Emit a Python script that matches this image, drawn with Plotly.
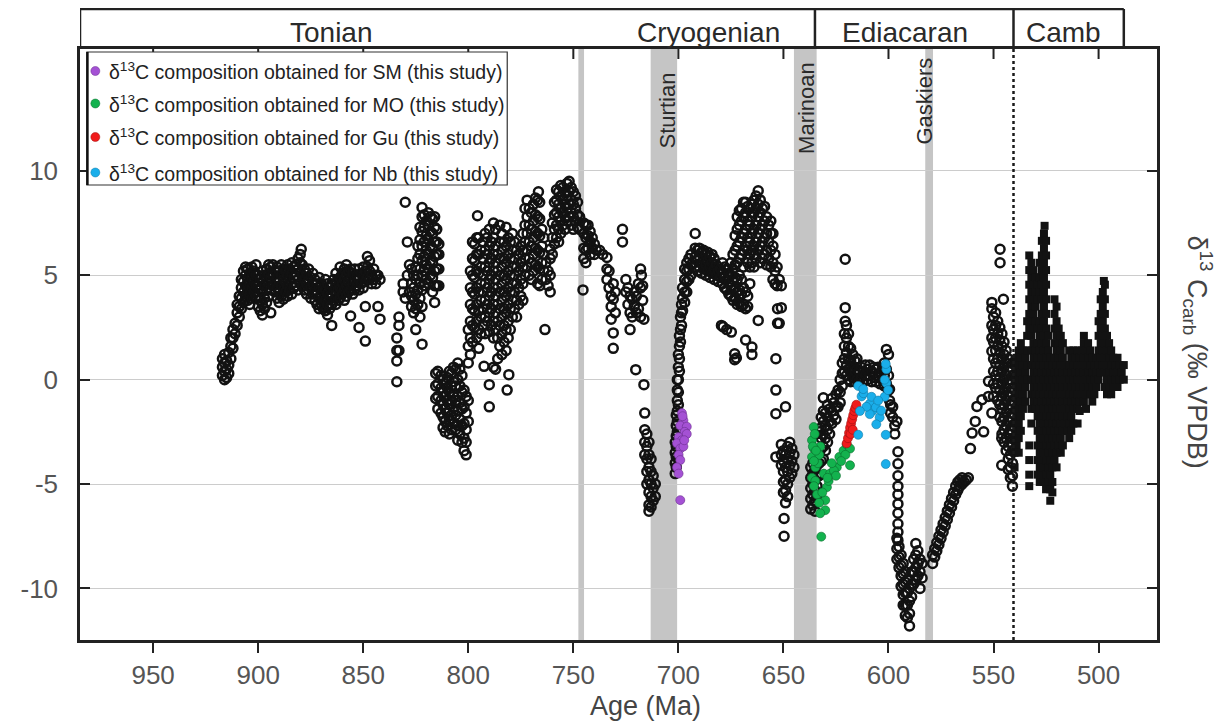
import plotly.graph_objects as go

# ---------------- DATA ----------------
# Compilation of carbonate d13C (rows: age in Ma, then d13C values read at that age)
tonian_early = [
    (917, 0.2, 0.6, 1.0), (916, 0.0, 0.4, 0.8, 1.2), (915, 0.1, 0.5, 0.9), (914, 0.3, 0.7, 1.3),
    (913, 1.0, 1.6, 2.0), (912, 1.5, 2.0, 2.4), (911, 2.2, 2.7), (910, 2.6, 3.2, 3.6),
    (909, 3.0, 3.5, 4.0), (908, 3.4, 3.9, 4.4, 4.8), (907, 3.7, 4.2, 4.7, 5.2), (906, 4.0, 4.5, 5.0, 5.4),
    (905, 3.8, 4.3, 4.8, 5.3), (904, 3.6, 4.1, 4.6, 5.1), (903, 3.9, 4.4, 4.9, 5.4), (902, 4.2, 4.7, 5.2),
    (901, 4.0, 4.5, 5.0, 5.5), (900, 3.5, 4.0, 4.5, 5.0), (899, 3.3, 3.8, 4.3, 4.8), (898, 3.1, 3.6, 4.2, 4.7, 5.2),
    (897, 3.4, 3.9, 4.5, 5.0), (896, 3.7, 4.3, 4.8, 5.3), (895, 4.0, 4.6, 5.1, 5.5), (894, 3.2, 4.3, 4.9, 5.4),
    (893, 4.5, 5.0, 5.5), (892, 4.2, 4.7, 5.2), (891, 3.9, 4.4, 4.9, 5.4), (890, 3.7, 4.2, 4.7, 5.2),
    (889, 4.0, 4.5, 5.0, 5.5), (888, 3.85, 4.3, 4.8, 5.3), (887, 4.2, 4.7, 5.2), (886, 4.0, 4.5, 5.0, 5.5),
    (885, 4.3, 4.8, 5.3), (884, 4.1, 4.6, 5.1, 5.6), (883, 4.4, 4.9, 5.4), (882, 4.5, 5.0, 5.5),
    (881, 4.3, 4.8, 5.3, 5.8), (880, 4.6, 5.1, 5.6, 6.0), (879.5, 6.25), (879, 4.5, 5.0, 5.5),
    (878, 4.3, 4.8, 5.3), (877, 4.1, 4.6, 5.1), (876, 4.3, 4.8, 5.3), (875, 3.9, 4.4, 4.9),
    (874, 4.1, 4.6, 5.1), (873, 3.8, 4.3, 4.8), (872, 3.6, 4.1, 4.6), (871, 3.4, 3.9, 4.4, 4.9),
    (870, 3.6, 4.1, 4.6), (869, 3.4, 3.9, 4.4), (868, 3.3, 3.8, 4.3, 4.8), (867, 3.1, 3.6, 4.1, 4.6),
    (866, 3.4, 3.9, 4.4), (865, 2.6, 3.6, 4.1, 4.6), (864, 3.8, 4.3, 4.8), (863, 3.6, 4.1, 4.6, 5.1),
    (862, 3.8, 4.3, 4.8), (861, 3.9, 4.4, 4.9, 5.4), (860, 4.1, 4.6, 5.1), (859, 3.8, 4.3, 4.8, 5.3),
    (858, 4.0, 4.5, 5.0, 5.5), (857, 4.2, 4.7, 5.2), (856, 3.05, 4.3, 4.8, 5.3), (855, 4.1, 4.6, 5.1),
    (854, 4.3, 4.8, 5.3), (853, 4.5, 5.0), (852, 2.5, 4.3, 4.8, 5.3), (851, 4.6, 5.1),
    (850, 4.4, 4.9, 5.4), (849, 1.85, 3.5, 4.7, 5.2), (848, 4.9, 5.4, 5.9), (847, 4.8, 5.2, 5.7),
    (846, 4.6, 5.0), (845, 4.8, 5.3), (844, 4.6, 5.0), (843, 3.5, 5.0), (842, 2.9, 4.8),
]

tonian_late = [
    (834, -0.1, 0.9, 1.4, 2.0), (833, 1.4, 2.6, 3.0), (831, 4.2, 4.6), (830, 3.9, 8.5), (829, 5.0, 6.6),
    (828, 4.2, 5.5), (827, 3.5, 4.0, 4.6, 5.3), (826, 3.2, 3.8, 4.4, 5.0), (825, 2.4, 3.4, 4.1, 4.8, 5.4),
    (824, 3.6, 4.3, 5.0, 5.8, 6.4), (823, 3.0, 3.9, 4.6, 5.3, 6.0, 6.7, 7.3),
    (822, 1.7, 3.5, 4.3, 5.0, 5.7, 6.4, 7.1, 7.8, 8.25), (821, 4.5, 5.2, 5.9, 6.6, 7.3, 7.9),
    (820, 4.8, 5.5, 6.2, 6.9, 7.6), (819, 4.6, 5.3, 6.0, 6.7, 7.4, 8.0), (818, 5.0, 5.7, 6.4, 7.1, 7.8),
    (817, 4.2, 4.9, 5.6, 6.3, 7.0, 7.7), (816, 3.7, 4.5, 5.2, 5.9, 6.6, 7.3, 7.8),
    (815, 4.5, 5.3, 6.0, 6.6, 7.2), (814, 4.5, 5.3, 6.0, 6.5),
    (815.5, 0.3, -0.3, -0.9), (814.5, 0.4, -0.2, -0.8, -1.4), (813, 0.2, -0.4, -1.0, -1.6),
    (812, 0.0, -0.6, -1.2, -1.8, -2.3), (811, -0.2, -0.8, -1.4, -2.0, -2.5), (810, 0.1, -0.4, -1.0, -1.6, -2.2),
    (809, 0.4, -0.6, -1.2, -1.9, -2.6), (808, 0.3, -0.3, -1.0, -1.7, -2.4), (807, 0.6, -0.1, -0.8, -1.5, -2.1),
    (806, 0.5, -0.3, -1.0, -1.7, -2.4), (805, 0.8, 0.0, -0.8, -1.5, -2.2, -2.9), (804, 0.5, -0.3, -1.1, -1.9, -2.6),
    (803, 0.2, -0.6, -1.4, -2.2, -3.0), (802, -0.5, -1.3, -2.1, -2.8, -3.4), (801, -0.8, -1.6, -2.4, -3.0, -3.6),
    (800, -1.0, -2.0, 0.8, 1.6, 2.4), (799, 1.2, 2.0, 2.8, 3.6, 4.4, 5.2), (798, 1.8, 2.6, 3.4, 4.2, 5.0, 5.8, 6.6),
    (797, 2.5, 3.3, 4.1, 4.9, 5.7, 6.5), (796, 2.0, 2.8, 3.6, 4.4, 5.2, 6.0, 6.8), (795.6, 7.85),
    (795, 1.5, 2.4, 3.3, 4.2, 5.1, 6.0, 6.8), (794, 2.2, 3.0, 3.8, 4.6, 5.4, 6.2),
    (793, 2.6, 3.4, 4.2, 5.0, 5.8, 6.6), (792.5, 0.64), (792, 2.2, 3.0, 3.8, 4.6, 5.4, 6.2, 7.0),
    (791, 2.8, 3.6, 4.4, 5.2, 6.0, 6.8), (790, -1.3, -0.24, 2.3, 3.2, 4.0, 4.8, 5.6, 6.4, 7.2),
    (789, 2.6, 3.4, 4.2, 5.0, 5.8, 6.6), (788, 0.6, 2.0, 2.8, 3.6, 4.4, 5.2, 6.0, 6.8, 7.5),
    (787, 0.5, 2.4, 3.2, 4.0, 4.8, 5.6, 6.4, 7.2), (786, 1.0, 2.0, 2.8, 3.6, 4.4, 5.2, 6.0),
    (785, 1.6, 2.6, 3.4, 4.2, 5.0, 5.8, 6.6, 7.4), (784, 1.2, 2.2, 3.0, 3.8, 4.6, 5.4, 6.2, 7.0),
    (783, 1.8, 2.6, 3.4, 4.2, 5.0, 5.8, 6.6), (782, 1.4, 2.4, 3.2, 4.0, 4.8, 5.6, 6.4, 7.3), (781.5, -0.5),
    (781, 2.0, 2.8, 3.6, 4.4, 5.2, 6.0, 6.8), (780.7, 0.24), (780, 2.4, 3.4, 4.2, 5.0, 5.8, 6.6),
    (779, 3.0, 3.8, 4.6, 5.4, 6.2, 7.0), (778, 3.4, 4.2, 5.0, 5.8, 6.6), (777, 3.0, 3.8, 4.6, 5.4, 6.2),
    (776, 3.6, 4.4, 5.2, 6.0), (775, 4.0, 4.8, 5.6, 6.4), (774, 3.8, 4.6, 5.4, 6.2, 7.0),
    (773, 5.0, 5.8, 6.6, 7.4, 8.2), (772, 5.4, 6.2, 7.0, 7.8, 8.6), (771, 5.0, 5.8, 6.6, 7.4, 8.2),
    (770, 4.8, 5.6, 6.4, 7.2, 8.0), (769, 5.2, 6.0, 6.8, 7.6, 8.4), (768, 5.5, 6.3, 7.1, 7.9, 8.7),
    (767, 4.6, 5.4, 6.2, 7.0, 7.8, 8.6), (766.6, 9.0), (766, 4.5, 5.3, 6.1, 6.9, 7.7, 8.5),
    (765, 4.8, 5.6, 6.4, 7.2), (764, 5.2, 6.0, 6.8), (763.5, 2.4), (763, 4.8, 5.6), (762, 4.5, 5.2),
    (761, 4.2, 5.0, 5.8, 6.25), (760, 6.0, 6.8, 7.5), (759, 6.5, 7.2, 7.9, 8.5),
    (758, 6.8, 7.4, 8.0, 8.6, 9.1), (757, 6.6, 7.2, 7.8, 8.4, 9.0), (756, 7.0, 7.6, 8.2, 8.8, 9.3),
    (755, 7.4, 8.0, 8.6, 9.2), (754, 7.2, 7.8, 8.4, 9.0), (753, 7.6, 8.2, 8.8, 9.4),
    (752, 7.8, 8.4, 9.0, 9.5), (751, 7.4, 8.0, 8.6, 9.2), (750, 7.2, 7.8, 8.4, 9.0),
    (749, 7.6, 8.2, 8.8), (748, 7.3, 7.9, 8.5), (747, 7.2, 7.8),
]

cryogenian = [
    (745.4, 4.3), (745, 5.8, 6.3, 7.0, 7.5), (744, 5.6, 6.2, 6.8, 7.4), (743, 6.3, 6.9, 7.4),
    (742, 6.0, 6.6, 7.1), (741, 6.3, 6.8), (740, 6.0, 6.5), (739, 6.2), (737.5, 6.2), (736, 6.0),
    (734, 4.8, 5.3, 5.85), (733, 4.4, 5.2), (732, 2.9, 3.5, 4.0), (731, 1.5, 2.24, 3.85, 4.6),
    (730, 3.2, 4.2), (726.6, 6.6, 7.2), (725, 4.2, 4.8), (724, 3.6, 4.4), (723, 2.4, 3.2, 4.0),
    (722, 3.0, 3.85), (721, 3.5, 4.2), (720.3, 0.48), (720, 3.2, 4.0), (719, 3.4, 4.6),
    (718, 3.0, 4.4, 5.3), (717.6, 5.0), (717, 3.8, 4.5), (716.4, -0.24, 2.9),
    (716, -1.6, -2.4, -3.0, -3.6), (715, -2.6, -3.2, -3.8, -4.4, -5.0),
    (714, -3.0, -3.6, -4.2, -4.8, -5.4, -6.0, -6.3), (713, -3.8, -4.4, -5.0, -5.6, -6.1),
    (712, -4.6, -5.2, -5.8), (711, -5.0, -5.6),
    (701.5, -4.5, -4.0, -3.5, -3.0), (701, -4.2, -3.7, -3.2, -2.7, -2.2, -1.7),
    (700.5, -2.5, -2.0, -1.5, -1.0, -0.5, 0.0), (700, -1.2, -0.6, 0.0, 0.6, 1.2),
    (699.5, 0.4, 1.0, 1.6, 2.1), (699, 1.8, 2.4, 3.0), (698.5, 2.6, 3.2, 3.6), (698, 3.3, 3.9, 4.4),
    (697, 3.7, 4.2, 4.8, 5.3), (696, 4.2, 4.7, 5.2, 5.6), (695, 4.8, 5.3, 5.8), (694, 5.0, 5.5, 6.0),
    (692, 5.4, 5.9, 6.3, 7.0), (691, 5.2, 5.7, 6.2), (690, 5.4, 5.9, 6.3), (689, 5.1, 5.6, 6.1),
    (688, 5.3, 5.8, 6.2), (687, 5.0, 5.5, 6.0), (686, 5.2, 5.7, 6.1), (685, 4.9, 5.4, 5.9),
    (684, 5.1, 5.6, 6.0), (683, 4.8, 5.3, 5.8), (682, 5.0, 5.5), (681, 4.7, 5.2), (680, 4.9, 5.3),
    (679.5, 2.6), (679, 4.6, 5.1, 5.6), (678.7, 2.53), (678, 4.4, 4.9, 5.4), (677, 2.4, 4.3, 4.8, 5.3),
    (676, 4.1, 4.6, 5.1), (675, 4.0, 4.5, 5.0, 5.6), (674.8, 2.28), (674, 3.8, 4.3, 4.8, 5.3, 6.0),
    (673.2, 0.96, 1.24), (673, 3.9, 4.4, 4.9, 5.5, 6.2, 6.9), (672.4, 1.04),
    (672, 3.6, 4.2, 4.8, 5.6, 6.4, 7.2, 7.8), (671, 3.7, 4.3, 5.0, 5.8, 6.6, 7.4, 8.1),
    (670, 3.5, 4.1, 4.8, 6.0, 6.8, 7.6, 8.2), (669, 3.6, 4.4, 5.4, 6.2, 7.0, 7.8, 8.5),
    (668, 1.9, 3.4, 4.2, 6.4, 7.2, 8.0, 8.5), (667, 3.5, 4.0, 5.6, 6.2, 6.8, 7.6, 8.3),
    (666, 4.6, 5.4, 6.0, 6.6, 7.4, 8.2), (665, 1.2, 1.56, 5.6, 6.2, 7.0, 7.8, 8.4),
    (664, 5.4, 6.0, 6.4, 7.2, 8.0, 8.6), (663, 5.8, 6.6, 7.4, 8.2, 8.8),
    (662, 2.84, 6.2, 7.0, 7.8, 8.4, 9.05), (661, 5.6, 6.4, 7.2, 8.0, 8.6), (660, 5.8, 6.6, 7.4, 8.2),
    (659, 6.0, 6.8, 7.6, 8.3), (658, 5.5, 6.2, 7.0, 7.8), (657, 5.8, 6.6, 7.4), (656, 5.4, 6.2, 7.0, 7.6),
    (655, 4.8, 5.6, 6.4, 7.0), (654, 4.6, 5.2, 6.0), (653.6, -3.7, -1.63, -0.5, 1.0), (653, 4.5, 5.4),
    (652.8, 3.4, 2.7), (652, 2.7, 4.8), (651, 3.45, 4.5), (651, -3.1, -3.6, -4.1),
    (650, -3.4, -3.9, -4.4, -4.9, -5.4), (649.7, -6.65, -7.5), (649, -1.3, -3.6, -4.2, -4.8, -5.3, -5.9),
    (648, -3.2, -3.8, -4.4, -5.0, -5.6), (647, -3.0, -3.5, -4.1, -4.7), (646, -3.3, -3.9, -4.5),
    (645, -3.6, -4.2), (637, -4.2, -4.7, -5.2, -5.7, -6.2), (636, -4.0, -4.5, -5.0, -5.5, -6.0),
    (635, -4.3, -4.8, -5.3, -5.8, -6.3), (634, -4.1, -4.6, -5.1, -5.6),
]

ediacaran = [
    (633, -2.5, -3.0, -3.5, -4.0, -4.6), (632, -1.8, -2.3, -2.8, -3.3, -3.9),
    (631, -0.87, -1.5, -2.0, -2.6, -3.2, -3.8), (630, -1.6, -2.2, -2.8, -3.4), (629, -1.2, -1.8, -2.4, -3.0),
    (628, -1.4, -2.0, -2.6), (627, -0.9, -1.5, -2.1), (626, -1.1, -1.7), (625, -0.7, -1.3, -1.9),
    (624, -0.5, -1.3), (623, 0.0, -0.6, -1.1), (622, -0.3, 0.3, 0.8), (621, 0.4, 1.0, 1.6, 2.2),
    (620.6, 2.8, 3.45, 5.77), (620, 0.2, 0.7, 1.3, 2.0, 2.6), (619, 0.0, 0.5, 1.0, 1.6, 2.2),
    (618, -0.1, 0.4, 0.9, 1.5), (617, 0.1, 0.6, 1.2), (616, -0.1, 0.4, 0.9), (615, 0.0, 0.5, 1.0),
    (614, -0.1, 0.4), (613, 0.1, 0.6), (612, -0.1, 0.4), (611, 0.2, 0.7), (610, 0.0, 0.5),
    (609, 0.2, 0.7), (608, -0.1, 0.4), (607, 0.1, 0.6), (606, -0.1, 0.5), (605, 0.1, 0.6),
    (604, -0.2, 0.3), (603, 0.0, 0.5), (602, -0.3, 0.2, 0.8), (601, -0.2, 0.5, 1.45), (600, -0.5, 0.2, 1.2),
    (599.5, -0.46, -1.0), (599, -1.2, -1.6), (598, -1.3, -1.8), (597, -2.2, -2.6), (596, -2.0),
    (595.5, -3.45, -4.03, -4.6, -5.1, -5.5, -5.95, -6.4, -6.9, -7.3, -7.7),
    (596, -7.6, -8.1, -8.6), (595, -8.0, -8.5, -9.0), (594, -8.4, -8.9, -9.4, -9.9),
    (593, -8.8, -9.3, -9.8, -10.3, -10.8), (592, -9.2, -9.7, -10.2, -10.8, -11.3),
    (591, -9.6, -10.2, -10.8, -11.4), (590, -10.0, -10.6, -11.2, -11.8), (589, -9.2, -9.8, -10.4),
    (588, -8.6, -9.2, -9.8), (587, -7.85, -8.4, -9.0, -9.6), (586, -8.2, -8.8, -9.4),
    (585, -8.6, -9.2, -10.0), (584, -8.8, -9.5),
    (579, -8.8, -8.4), (578, -8.5, -8.1), (577, -8.2, -7.8), (576, -7.9, -7.5), (575, -7.6, -7.2),
    (574, -7.3, -6.9), (573, -7.0, -6.6), (572, -6.7, -6.3), (571, -6.4, -6.0), (570, -6.1, -5.7),
    (569, -5.8, -5.4), (568, -5.5, -5.1), (567, -5.3, -4.9), (566, -5.1, -4.8), (565, -5.0, -4.7),
    (564, -4.9), (563, -4.8), (562, -4.7),
    (561, -3.3), (560.2, -2.56), (558.7, -2.0), (557.9, -1.28), (555.5, -0.96), (554.7, -2.5),
    (552.4, -0.8, -0.08), (550.8, 3.7, 3.4, 2.6, 2.0, 1.36, -1.6), (546.9, 6.25, 5.6),
    (546.1, -4.1, -2.8), (545.3, 3.85),
    (550, 3.0, 2.4, 1.8, 1.0, 0.4, -0.2, -0.8), (549, 3.2, 2.6, 2.0, 1.4, 0.8, 0.2, -0.4),
    (548, 2.8, 2.2, 1.6, 1.0, 0.4, -0.2, -1.0), (547, 2.5, 1.9, 1.3, 0.7, 0.1, -0.5, -1.2, -1.8),
    (546, 2.2, 1.6, 1.0, 0.4, -0.2, -0.8, -1.4, -2.0, -2.6),
    (545, 1.8, 1.2, 0.6, 0.0, -0.6, -1.2, -1.8, -2.4, -3.0),
    (544, 1.4, 0.8, 0.2, -0.4, -1.0, -1.6, -2.2, -2.8, -3.4),
    (543, 1.0, 0.4, -0.2, -0.8, -1.4, -2.0, -2.6, -3.2, -3.8, -4.3),
    (542, 0.6, 0.0, -0.6, -1.2, -1.8, -2.4, -3.0, -3.6, -4.2, -4.7),
    (541, 0.8, 0.2, -0.4, -1.0, -1.6, -2.2, -2.8, -3.4, -4.0, -4.6, -5.1),
]

cambrian = [
    (540, 1.0, 0.7, 0.0, -0.7, -1.4, -2.1, -2.8, -3.5, -4.2),
    (539, 1.05, 0.35, -0.35, -1.05, -1.75, -2.45, -3.15),
    (538, 1.4, 0.7, 0.0, -0.7, -1.4, -2.1, -2.8, -3.5),
    (537, 1.75, 1.05, 0.35, -0.35, -1.05, -1.75, -2.45),
    (536, 1.4, 0.7, 0.0, -0.7, -1.4),
    (535, 1.05, 0.35, -0.35, -1.05),
    (534, 2.8, 2.1, 1.4, 0.7, 0.0),
    (533, 5.95, 5.25, 4.55, 3.85, 3.15, 2.45, -3.15, -3.85, -4.55, -5.1),
    (532, 5.6, 4.9, 4.2, 3.5, 2.8, 2.1, 1.4, 0.7, 0.0, -0.7, -1.4, -2.1),
    (531, 5.25, 4.55, 3.85, 3.15, 2.45, 1.75, 1.05, 0.35, -0.35, -1.05),
    (530, 4.9, 4.2, 3.5, 2.8, 1.4, 0.7, 0.0, -0.7, -1.4),
    (529, 4.55, 3.85, 2.45, 1.75, 1.05, 0.35, -0.35, -1.05, -1.75, -2.45, -3.15, -3.85, -4.55),
    (528, 5.6, 4.9, 4.2, 2.8, 2.1, 1.4, 0.7, 0.0, -0.7, -1.4, -2.1, -2.8, -3.5, -4.2, -4.9),
    (527, 6.65, 5.95, 5.25, 4.55, 3.85, 3.15, 2.45, 1.75, 1.05, 0.35, -0.35, -1.05, -1.75, -2.45,
     -3.15, -3.85, -4.55),
    (526, 7.0, 6.3, 5.6, 4.9, 4.2, 3.5, 2.8, 2.1, 1.4, 0.7, 0.0, -0.7, -1.4, -2.1, -2.8, -3.5, -4.2, -4.9),
    (525.7, 7.37),
    (525, 6.65, 5.95, 5.25, 4.55, 3.85, 3.15, 2.45, 1.75, 1.05, 0.35, -0.35, -1.05, -1.75, -2.45,
     -3.15, -3.85, -4.55, -5.25),
    (524, 2.1, 1.4, 0.7, 0.0, -0.7, -1.4, -2.1, -2.8, -3.5, -4.2, -4.9),
    (523, 1.05, 0.35, -0.35, -1.05, -1.75, -2.45, -3.15, -3.85, -4.55, -5.25, -5.8),
    (522, 0.7, 0.0, -0.7, -1.4, -2.1, -2.8, -3.5, -4.2, -4.9, -5.4),
    (521, 3.85, 3.15, 2.45, 1.75, 1.05, 0.35, -0.35, -1.05, -1.75, -2.45, -3.15, -3.85),
    (520, 3.5, 2.8, 2.1, 1.4, 0.7, 0.0, -0.7, -1.4, -2.1, -2.8, -3.5, -4.2),
    (519, 2.45, 1.75, 1.05, 0.35, -0.35, -1.05, -1.75, -2.45, -3.15),
    (518, 2.1, 1.4, 0.7, 0.0, -0.7, -1.4, -2.1, -2.8, -3.5),
    (517, 1.75, 1.05, 0.35, -0.35, -1.05, -1.75, -2.45, -3.15),
    (516, 0.7, 0.0, -0.7, -1.4, -2.1),
    (515, 0.35, -0.35, -1.05, -1.75, -2.45),
    (514, 1.4, 0.7, 0.0, -0.7, -1.4, -2.1, -2.8),
    (513, 1.05, 0.35, -0.35, -1.05, -1.75, -2.45),
    (512, 1.4, 0.7, 0.0, -0.7, -1.4, -2.1),
    (511, 1.05, 0.35, -0.35, -1.05),
    (510, 1.4, 0.7, 0.0, -0.7, -1.4, -2.1),
    (509, 1.05, 0.35, -0.35, -1.05, -1.5),
    (508, 1.4, 0.7, 0.0, -0.7),
    (507, 2.1, 1.75, 1.05, 0.35, -0.35, -1.05),
    (506, 1.4, 0.7, 0.0, -0.7, -1.4),
    (505, 1.75, 1.05, 0.35, -0.35),
    (504, 1.4, 0.7, 0.0, -0.7),
    (503, 1.05, 0.35, -0.35, -1.05),
    (502, 0.7, 0.0, -0.7),
    (501, 1.05, 0.35, -0.35),
    (500, 2.8, 2.1, 1.4, 0.7, 0.0),
    (499, 3.85, 3.15, 2.45, 1.75, 1.05, 0.35),
    (498, 4.2, 3.5, 2.8, 2.1, 1.4, 0.7),
    (497.5, 4.73),
    (497, 4.55, 3.85, 3.15, 2.45, 1.75, 1.05, 0.35, -0.35),
    (496, 2.1, 1.4, 0.7, 0.0, -0.7),
    (495, 1.75, 1.05, 0.35, -0.35),
    (494, 1.4, 0.7, 0.0, -0.7),
    (493, 1.05, 0.35, -0.35),
    (492, 0.7, 0.0),
    (491, 1.05, 0.35, -0.35),
    (490, 0.7, 0.0),
    (489, 0.35),
    (488, 0.7, 0.0),
]

# This study
sm_age = [698.3, 697.6, 699.1, 696.0, 697.0, 699.9, 698.3, 696.0, 700.7, 699.1, 697.6, 699.9,
          699.1, 700.7, 699.9, 699.1, 698.0, 697.2]
sm_d13c = [-1.6, -1.95, -2.2, -2.25, -2.5, -2.75, -2.9, -2.6, -3.05, -3.3, -3.2, -3.6,
           -3.85, -4.2, -4.5, -5.77, -1.75, -2.9]

mo_age = [635.6, 636.4, 635.1, 632.4, 636.4, 634.8, 636.4, 634.8, 630.8, 629.3, 628.5, 627.8,
          624.6, 623.4, 621.4, 630.1, 630.1, 632.0, 633.6, 632.9, 635.5, 635.5, 635.5, 634.0,
          633.0, 632.5, 626.0, 625.0, 619.9, 618.3, 618.3, 620.5, 622.5, 636.0, 634.5, 631.5,
          629.0, 627.0]
mo_d13c = [-2.27, -2.9, -2.6, -3.2, -3.7, -4.2, -4.7, -4.85, -4.5, -5.15, -4.85, -4.5,
           -4.2, -3.7, -3.4, -5.77, -6.25, -7.52, -4.0, -3.6, -3.3, -3.9, -5.1, -5.5,
           -5.9, -6.4, -4.35, -4.6, -3.1, -3.3, -4.1, -3.6, -3.9, -3.2, -3.4, -5.4,
           -4.7, -4.0]

gu_age = [619.9, 619.3, 618.8, 618.3, 617.8, 617.3, 616.8, 616.3, 615.8, 615.3, 618.0, 617.0]
gu_d13c = [-3.05, -2.8, -2.55, -2.3, -2.1, -1.9, -1.7, -1.5, -1.35, -1.2, -2.6, -2.4]

nb_age = [614.4, 612.8, 611.9, 608.9, 607.4, 606.0, 604.2, 605.8, 603.5, 601.8, 601.0, 601.0,
          601.3, 601.8, 600.2, 608.9, 610.5, 613.6, 614.4, 601.3, 601.3, 608.1, 604.9, 612.0]
nb_d13c = [-0.3, -0.8, -0.65, -1.15, -1.48, -1.32, -1.81, -2.14, -1.48, -0.82, -0.16, 0.5,
           0.75, 0.0, -0.5, -1.65, -1.3, -1.5, -2.64, -2.64, -4.04, -0.82, -1.0, -0.45]

# Time scale
period_names = ["Tonian", "Cryogenian", "Ediacaran", "Camb"]
period_label_age = [865.3, 685.9, 592.2, 516.5]
period_boundaries = [635.0, 540.5]
camb_top = 488.0
glacial_names = ["Sturtian", "Marinoan", "Gaskiers"]
glacial_label_age = [705.2, 639.3, 583.3]
glacial_bands = [(747.6, 744.9), (713.2, 700.6), (645.0, 634.2), (582.5, 578.8)]
pc_boundary = 540.5

x_ticks = [950, 900, 850, 800, 750, 700, 650, 600, 550, 500]
y_ticks = [-10, -5, 0, 5, 10]
y_ticktext = ["-10", "-5", "0", "5", "10"]

series = [
    ("SM", sm_age, sm_d13c, "#a451d4", "#6b2f8f"),
    ("MO", mo_age, mo_d13c, "#13b24e", "#0a6b2c"),
    ("Gu", gu_age, gu_d13c, "#f01c1c", "#9c1010"),
    ("Nb", nb_age, nb_d13c, "#1aaeea", "#117aa6"),
]

# ---------------- FIGURE ----------------
X_RANGE = [984.8, 472.2]
Y_RANGE = [-12.47, 15.84]
FONT = "Liberation Sans, Arial, sans-serif"
OFF = 8                     # page body margin of the html page
W, H = 1224 - OFF, 725 - OFF
ML, MR, MT, MB = 68 - OFF, 67, 49 - OFF, 85
PW, PH = W - ML - MR, H - MT - MB


def expand(rows):
    xs, ys = [], []
    for r in rows:
        for v in r[1:]:
            xs.append(r[0])
            ys.append(v)
    return xs, ys


def px2paper_x(px):           # px given in screenshot pixels
    return (px - OFF - ML) / PW


def py2paper_y(py):
    return (H - MB - (py - OFF)) / PH


fig = go.Figure()

comp_x, comp_y = expand(tonian_early + tonian_late + cryogenian + ediacaran)
camb_x, camb_y = expand(cambrian)

fig.add_trace(go.Scatter(
    x=comp_x, y=comp_y, mode="markers", showlegend=False, name="compilation",
    marker=dict(symbol="circle-open", size=9, color="#121212", line=dict(width=2.5, color="#121212")),
))
fig.add_trace(go.Scatter(
    x=camb_x, y=camb_y, mode="markers", showlegend=False, name="compilation (Cambrian)",
    marker=dict(symbol="square", size=8, color="#121212"),
))
for name, xa, ya, col, edge in series:
    fig.add_trace(go.Scatter(
        x=xa, y=ya, mode="markers", showlegend=False, name=name,
        marker=dict(symbol="circle", size=9, color=col, line=dict(width=0.6, color=edge)),
    ))

# glacial bands
for a0, a1 in glacial_bands:
    fig.add_vrect(x0=a0, x1=a1, fillcolor="#c5c5c5", opacity=1, line_width=0, layer="below")

# Precambrian-Cambrian boundary dotted line
fig.add_shape(type="line", xref="x", yref="paper", x0=pc_boundary, x1=pc_boundary, y0=0, y1=1,
              line=dict(color="#1a1a1a", width=2.5, dash="dot"))

# period box
box_top = py2paper_y(9)
lc = dict(color="#222222", width=2.5)
fig.add_shape(type="line", xref="x", yref="paper", x0=X_RANGE[0], x1=camb_top, y0=box_top, y1=box_top, line=lc)
fig.add_shape(type="line", xref="x", yref="paper", x0=X_RANGE[0], x1=X_RANGE[0], y0=1, y1=box_top, line=lc)
for b in period_boundaries + [camb_top]:
    fig.add_shape(type="line", xref="x", yref="paper", x0=b, x1=b, y0=1, y1=box_top, line=lc)
for nm, a in zip(period_names, period_label_age):
    fig.add_annotation(x=a, y=py2paper_y(32), xref="x", yref="paper", text=nm, showarrow=False,
                       font=dict(family=FONT, size=28, color="#2a2a2a"), xanchor="center", yanchor="middle")

# top (inside) ticks on the x axis
for t in x_ticks:
    fig.add_shape(type="line", xref="x", yref="paper", x0=t, x1=t, y0=1, y1=1 - 10 / PH,
                  line=dict(color="#222222", width=2))

# glacial labels
for nm, a, cy in zip(glacial_names, glacial_label_age, [110, 108, 101]):
    fig.add_annotation(x=a, y=py2paper_y(cy), xref="x", yref="paper", text=nm, showarrow=False,
                       textangle=-90, font=dict(family=FONT, size=22, color="#2a2a2a"),
                       xanchor="center", yanchor="middle")

# custom legend box
fig.add_shape(type="rect", xref="paper", yref="paper", x0=px2paper_x(75), x1=px2paper_x(500),
              y0=py2paper_y(185), y1=py2paper_y(52), line=dict(color="#333333", width=1.2),
              fillcolor="white", layer="above")
fig.add_shape(type="line", xref="paper", yref="paper", x0=px2paper_x(75.5), x1=px2paper_x(75.5),
              y0=py2paper_y(185), y1=py2paper_y(52), line=dict(color="#111111", width=2.5))
legend_rows_py = [71, 103.5, 137, 172.5]
for (name, xa, ya, col, edge), ry in zip(series, legend_rows_py):
    fig.add_shape(type="circle", xref="paper", yref="paper", xsizemode="pixel", ysizemode="pixel",
                  xanchor=px2paper_x(83.5), yanchor=py2paper_y(ry), x0=-4.5, x1=4.5, y0=-4.5, y1=4.5,
                  fillcolor=col, line=dict(color=edge, width=0.5), layer="above")
    fig.add_annotation(x=px2paper_x(95), y=py2paper_y(ry), xref="paper", yref="paper",
                       text="\u03b4<sup>13</sup>C composition obtained for %s (this study)" % name,
                       showarrow=False, xanchor="left", yanchor="middle",
                       font=dict(family=FONT, size=19.5, color="#222222"))

# axis titles
fig.add_annotation(x=px2paper_x(640), y=py2paper_y(706), xref="paper", yref="paper", text="Age (Ma)",
                   showarrow=False, xanchor="center", yanchor="middle",
                   font=dict(family=FONT, size=27, color="#444444"))
fig.add_annotation(x=px2paper_x(1198), y=py2paper_y(352), xref="paper", yref="paper",
                   text="\u03b4<sup>13</sup> C<sub>carb</sub> (\u2030 VPDB)", textangle=90,
                   showarrow=False, xanchor="center", yanchor="middle",
                   font=dict(family=FONT, size=27, color="#444444"))

fig.update_layout(
    width=W, height=H,
    margin=dict(l=ML, r=MR, t=MT, b=MB),
    paper_bgcolor="white", plot_bgcolor="white",
    font=dict(family=FONT),
    showlegend=False,
    xaxis=dict(range=X_RANGE, tickvals=x_ticks, ticks="outside", ticklen=10, tickwidth=2,
               tickcolor="#222222", showline=True, linewidth=2.5, linecolor="#222222", mirror=True,
               showgrid=False, zeroline=False, tickfont=dict(family=FONT, size=26, color="#555555")),
    yaxis=dict(range=Y_RANGE, tickvals=y_ticks, ticktext=y_ticktext, ticks="inside", ticklen=10,
               tickwidth=2, tickcolor="#222222", showline=True, linewidth=2.5, linecolor="#222222",
               mirror="ticks", showgrid=True, gridcolor="#cccccc", gridwidth=1, zeroline=False,
               ticklabelstandoff=14, tickfont=dict(family=FONT, size=26, color="#555555")),
)

fig.write_html("out.html")
